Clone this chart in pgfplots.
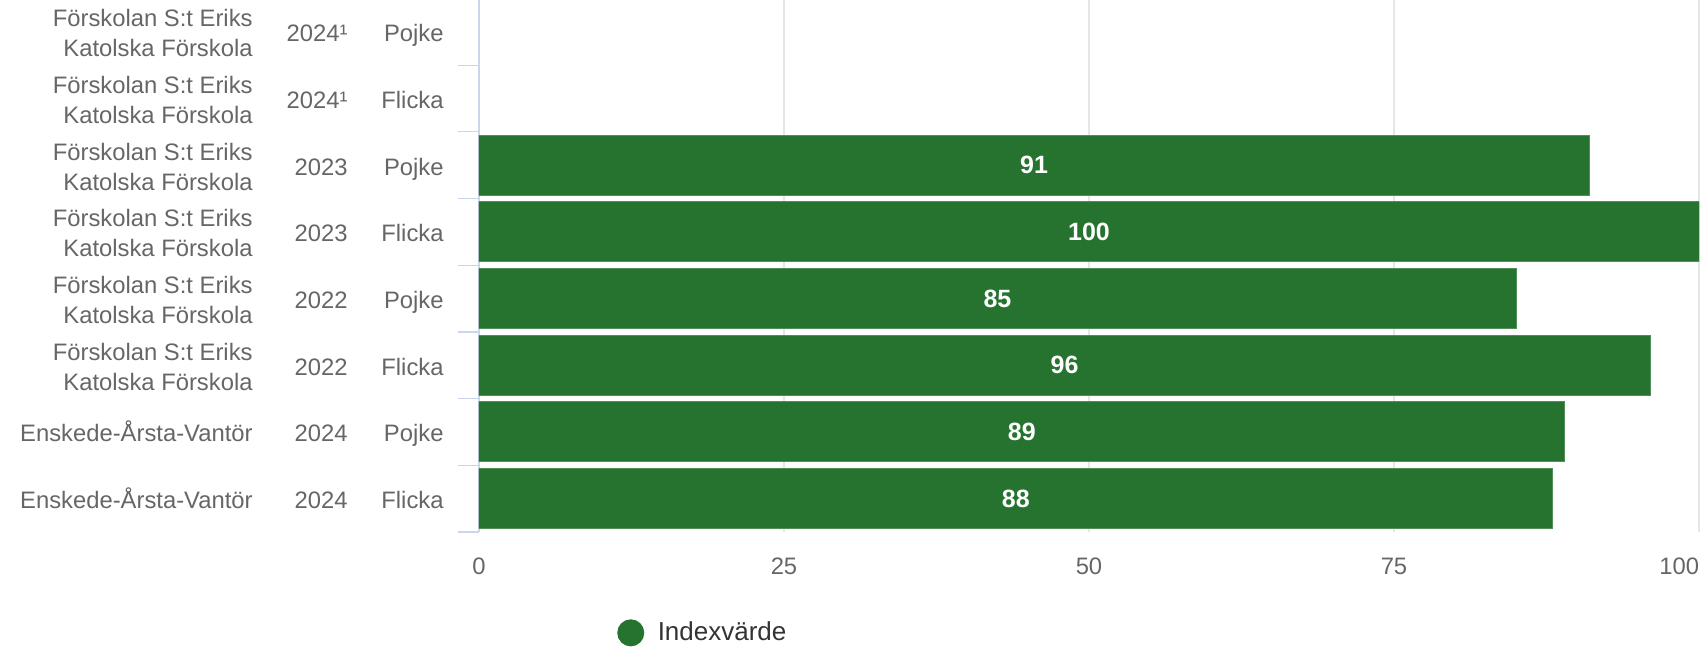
\documentclass[border=0pt]{standalone}
\usepackage{fontspec}
\setmainfont{Liberation Sans}
\usepackage{pgfplots}
\usepackage{pgfplotstable}
\pgfplotsset{compat=1.18}
\definecolor{barg}{RGB}{38,115,48}
\definecolor{axc}{RGB}{204,214,235}
\definecolor{gridc}{RGB}{230,230,230}
\definecolor{labc}{RGB}{102,102,102}
\definecolor{legc}{RGB}{51,51,51}

% row 0 is the top row
\pgfplotstableread{
row v
2 91
3 100
4 85
5 96
6 89
7 88
}\indexdata

\newcommand{\cell}[1]{\begin{tabular}[c]{@{}r@{}}#1\end{tabular}}
\newcommand{\lab}[3]{\makebox[110pt][r]{\cell{#1}}\makebox[47.5pt][r]{\cell{#2}}\makebox[48pt][r]{\cell{#3}}}
\newcommand{\sch}{Förskolan S:t Eriks\\Katolska Förskola}

\begin{document}
\begin{tikzpicture}
\begin{axis}[
    name=ax,
    width=610pt, height=266.8pt,
    scale only axis,
    xmin=0, xmax=100,
    ymin=-0.5, ymax=7.5,
    y dir=reverse,
    axis lines*=left,
    x axis line style={draw=none},
    y axis line style={draw=axc, line width=0.6pt},
    tick align=outside,
    major tick length=0pt,
    minor tick length=10.5pt,
    minor tick style={draw=axc, line width=0.6pt},
    xtick={0,25,50,75,100},
    xticklabels={0,25,50,75,\llap{100}},
    xticklabel style={font=\fontsize{11.9}{14}\selectfont, text=labc, yshift=-9.5pt},
    xmajorgrids=true,
    grid style={draw=gridc, line width=0.6pt},
    ytick={0,...,7},
    minor ytick={-0.5,0.5,1.5,2.5,3.5,4.5,5.5,6.5,7.5},
    yticklabels={
        {\lab{\sch}{2024¹}{Pojke}},
        {\lab{\sch}{2024¹}{Flicka}},
        {\lab{\sch}{2023}{Pojke}},
        {\lab{\sch}{2023}{Flicka}},
        {\lab{\sch}{2022}{Pojke}},
        {\lab{\sch}{2022}{Flicka}},
        {\lab{Enskede-Årsta-Vantör}{2024}{Pojke}},
        {\lab{Enskede-Årsta-Vantör}{2024}{Flicka}}
    },
    yticklabel style={font=\fontsize{11.9}{15}\selectfont, text=labc, inner sep=0pt, xshift=-17.5pt, yshift=-2pt},
    /pgf/number format/assume math mode=true,
    legend style={at={(rel axis cs:0.113,-0.189)}, anchor=west, draw=none, fill=none,
        inner sep=0pt, font=\fontsize{13}{15}\selectfont, text=legc},
]
\addplot[xbar, bar width=30pt, fill=barg, draw=barg!80!white, line width=0.5pt,
    legend image code/.code={\fill[barg] (0pt,0pt) circle (6.5pt);
        \path[draw=none, fill=none] (6.5pt,0pt) -- (11.5pt,0pt);}]
    table[x=v, y=row] {\indexdata};
\addlegendentry{Indexvärde}

% value labels in the middle of each bar
\addplot[draw=none, mark=*, mark size=0pt, mark options={draw=none, fill=none}, forget plot,
    point meta=explicit,
    nodes near coords={\pgfmathprintnumber{\pgfplotspointmeta}},
    nodes near coords style={anchor=center, text=white, font=\bfseries\fontsize{12.5}{15}\selectfont}]
    table[x expr=\thisrow{v}/2, y=row, meta=v] {\indexdata};
\end{axis}
\pgfresetboundingbox
\path ([xshift=-239.5pt, yshift=-59.6pt]ax.south west) rectangle ([xshift=4.5pt, yshift=-0.8pt]ax.north east);
\end{tikzpicture}
\end{document}
